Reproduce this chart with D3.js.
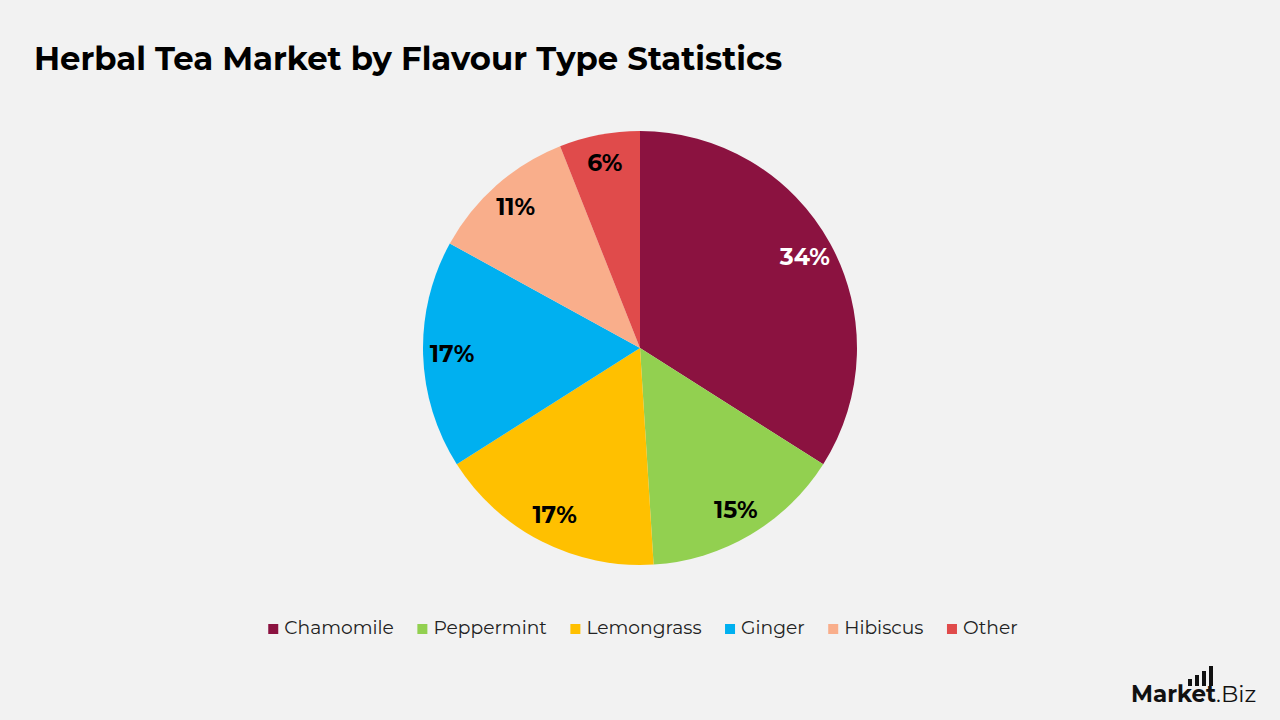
<!DOCTYPE html>
<html lang="en">
<head>
  <meta charset="utf-8">
  <title>Herbal Tea Market by Flavour Type Statistics</title>
  <script src="https://d3js.org/d3.v7.min.js"></script>
  <style>
    body { margin: 0; background: #f2f2f2; }
    text { font-family: Montserrat, Inter, "Open Sans", sans-serif; }
  </style>
</head>
<body>
  <script>
    var categories = ['Chamomile', 'Peppermint', 'Lemongrass', 'Ginger', 'Hibiscus', 'Other'];
    var values = [34, 15, 17, 17, 11, 6];
    var colors = ['#8b1240', '#92d050', '#ffc000', '#00b0f0', '#f9ae8b', '#e04b4b'];
    var labelColors = ['#ffffff', '#000000', '#000000', '#000000', '#000000', '#000000'];

    var w = 1280, h = 720;
    var cx = 640, cy = 348, radius = 217;

    var svg = d3.select('body').append('svg')
      .attr('width', w)
      .attr('height', h);

    svg.append('rect')
      .attr('width', w)
      .attr('height', h)
      .attr('fill', '#f2f2f2');

    svg.append('text')
      .attr('x', 34)
      .attr('y', 70)
      .attr('font-size', 32.3)
      .attr('font-weight', 700)
      .attr('fill', '#000')
      .text('Herbal Tea Market by Flavour Type Statistics');

    var data = categories.map(function(c, i) { return {name: c, value: values[i], i: i}; });

    var pie = d3.pie().sort(null).value(function(d) { return d.value; });
    var arc = d3.arc().innerRadius(0).outerRadius(radius);
    var labelArc = d3.arc().innerRadius(188).outerRadius(188);

    var g = svg.append('g')
      .attr('transform', 'translate(' + [cx, cy] + ')');

    var arcs = pie(data);

    g.selectAll('.slice')
      .data(arcs)
    .enter().append('path')
      .attr('class', 'slice')
      .attr('d', arc)
      .attr('fill', function(d) { return colors[d.data.i]; });

    g.selectAll('.label')
      .data(arcs)
    .enter().append('text')
      .attr('class', 'label')
      .attr('transform', function(d) { return 'translate(' + labelArc.centroid(d) + ')'; })
      .attr('text-anchor', 'middle')
      .attr('dy', '0.33em')
      .attr('font-size', 23.5)
      .attr('font-weight', 700)
      .attr('fill', function(d) { return labelColors[d.data.i]; })
      .text(function(d) { return d.data.value + '%'; });

    // legend
    var legend = svg.append('g');
    var items = legend.selectAll('.item')
      .data(data)
    .enter().append('g')
      .attr('class', 'item');
    items.append('rect')
      .attr('width', 10)
      .attr('height', 10)
      .attr('y', -10)
      .attr('fill', function(d) { return colors[d.i]; });
    items.append('text')
      .attr('x', 16)
      .attr('font-size', 18.7)
      .attr('fill', '#222')
      .text(function(d) { return d.name; });

    var gap = 23.5;
    var xPos = 0;
    items.each(function() {
      var item = d3.select(this);
      item.attr('transform', 'translate(' + xPos + ',0)');
      xPos += 16 + item.select('text').node().getComputedTextLength() + gap;
    });
    var legendW = xPos - gap;
    legend.attr('transform', 'translate(' + [(w - legendW) / 2 + 3, 634] + ')');

    // logo
    var logo = svg.append('g').attr('transform', 'translate(1131,702)');
    var logoText = logo.append('text')
      .attr('font-size', 23)
      .attr('fill', '#111');
    logoText.append('tspan').attr('font-weight', 700).text('Market');
    logoText.append('tspan').attr('font-weight', 400).text('.Biz');
    var barHeights = [7, 11, 15, 20];
    logo.selectAll('.bar')
      .data(barHeights)
    .enter().append('rect')
      .attr('class', 'bar')
      .attr('x', function(d, i) { return 57 + i * 7; })
      .attr('y', function(d) { return -16 - d; })
      .attr('width', 4)
      .attr('height', function(d) { return d; })
      .attr('fill', '#111');
  </script>
</body>
</html>
